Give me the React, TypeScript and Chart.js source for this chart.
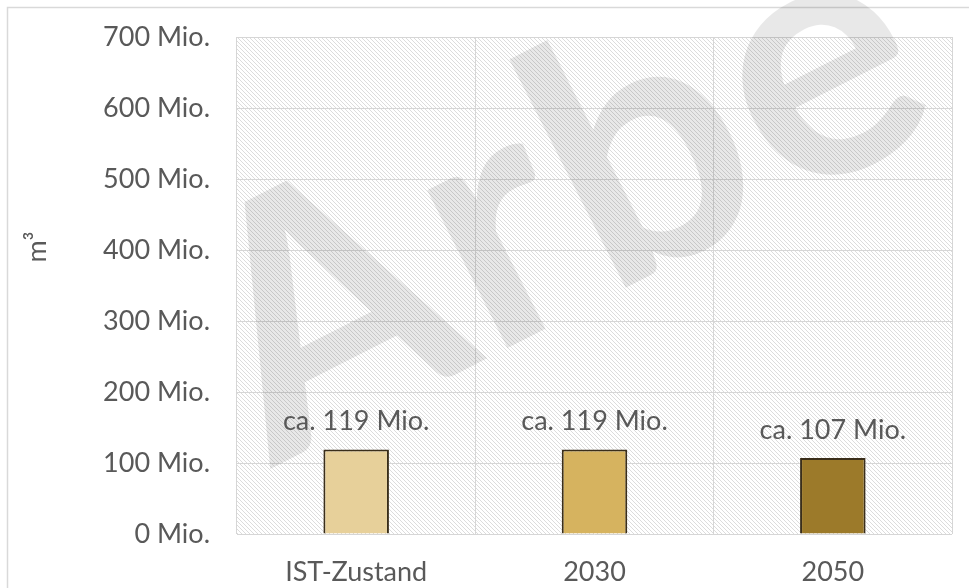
import React, { useEffect, useRef } from "react";
import { Chart, registerables } from "chart.js";

Chart.register(...registerables);

const categories = ["IST-Zustand", "2030", "2050"];
const volumesMio = [119, 119, 107];
const valueLabels = ["ca. 119 Mio.", "ca. 119 Mio.", "ca. 107 Mio."];
const barColors = ["#E7D09A", "#D6B35F", "#9C7A2A"];
const yMin = 0;
const yMax = 700;
const yStep = 100;
const yUnitSuffix = " Mio.";
const yAxisTitle = "m³";
const watermarkText = "Arbe";

const FONT = "Lato, 'Open Sans', sans-serif";
const TEXT_COLOR = "#595959";
const GRID_COLOR = "#D6D6D6";

function makeHatch(): CanvasPattern | string {
  const s = 4;
  const c = document.createElement("canvas");
  c.width = s;
  c.height = s;
  const g = c.getContext("2d");
  if (!g) return "#F2F2F2";
  g.fillStyle = "#FFFFFF";
  g.fillRect(0, 0, s, s);
  g.strokeStyle = "#DCDCDC";
  g.lineWidth = 1;
  g.beginPath();
  g.moveTo(-1, -1);
  g.lineTo(s + 1, s + 1);
  g.moveTo(-1 - s, -1);
  g.lineTo(1, s + 1);
  g.moveTo(s - 1, -1);
  g.lineTo(2 * s + 1, s + 1);
  g.stroke();
  const p = g.createPattern(c, "repeat");
  return p || "#F2F2F2";
}

const decorPlugin = {
  id: "decor",
  beforeDraw(chart: any) {
    const { ctx, chartArea, width, height } = chart;
    ctx.save();
    ctx.fillStyle = "#FFFFFF";
    ctx.fillRect(0, 0, width, height);
    // outer frame
    ctx.strokeStyle = "#D9D9D9";
    ctx.lineWidth = 1.5;
    ctx.beginPath();
    ctx.moveTo(7.5, height);
    ctx.lineTo(7.5, 7.5);
    ctx.lineTo(width, 7.5);
    ctx.stroke();
    // hatched plot background
    ctx.fillStyle = makeHatch();
    ctx.fillRect(
      chartArea.left,
      chartArea.top,
      chartArea.right - chartArea.left,
      chartArea.bottom - chartArea.top
    );
    // y axis title
    ctx.translate(37, 247);
    ctx.rotate(-Math.PI / 2);
    ctx.fillStyle = TEXT_COLOR;
    ctx.font = `27px ${FONT}`;
    ctx.textAlign = "center";
    ctx.textBaseline = "middle";
    ctx.fillText(yAxisTitle, 0, 0);
    ctx.restore();
  },
  beforeDatasetsDraw(chart: any) {
    const { ctx } = chart;
    ctx.save();
    ctx.translate(272, 468);
    ctx.rotate((-27 * Math.PI) / 180);
    ctx.fillStyle = "rgba(0,0,0,0.09)";
    ctx.font = `bold 345px ${FONT}`;
    try {
      (ctx as any).letterSpacing = "4px";
    } catch (e) {}
    ctx.textAlign = "left";
    ctx.textBaseline = "alphabetic";
    ctx.fillText(watermarkText, 0, 0);
    ctx.restore();
  },
  afterDatasetsDraw(chart: any) {
    const { ctx } = chart;
    const meta = chart.getDatasetMeta(0);
    ctx.save();
    ctx.fillStyle = TEXT_COLOR;
    ctx.font = `27px ${FONT}`;
    ctx.textAlign = "center";
    ctx.textBaseline = "middle";
    meta.data.forEach((bar: any, i: number) => {
      ctx.fillText(valueLabels[i], bar.x, bar.y - 28);
    });
    ctx.restore();
  },
};

export default function App() {
  const ref = useRef<HTMLCanvasElement | null>(null);

  useEffect(() => {
    if (!ref.current) return;
    const chart = new Chart(ref.current, {
      type: "bar",
      data: {
        labels: categories,
        datasets: [
          {
            data: volumesMio,
            backgroundColor: barColors,
            borderColor: "#3A2E1A",
            borderWidth: 2,
            borderSkipped: "bottom",
            barPercentage: 0.55,
            categoryPercentage: 0.5,
          },
        ],
      },
      options: {
        responsive: false,
        animation: false,
        devicePixelRatio: 1,
        layout: { padding: { top: 37, right: 17, left: 0, bottom: 0 } },
        plugins: {
          legend: { display: false },
          tooltip: { enabled: false },
        },
        scales: {
          x: {
            border: { display: false },
            grid: { color: GRID_COLOR, lineWidth: 1, drawTicks: false, offset: true },
            ticks: {
              color: TEXT_COLOR,
              font: { family: FONT, size: 27 },
              padding: 22,
            },
            afterFit(scale: any) {
              scale.height = 54;
            },
          },
          y: {
            min: yMin,
            max: yMax,
            border: { display: false },
            grid: { color: GRID_COLOR, lineWidth: 1, drawTicks: false },
            ticks: {
              stepSize: yStep,
              color: TEXT_COLOR,
              font: { family: FONT, size: 27 },
              padding: 27,
              callback: (v: any) => `${v}${yUnitSuffix}`,
            },
            afterFit(scale: any) {
              scale.width = 237;
              scale.paddingTop = 0;
              scale.paddingBottom = 0;
            },
          },
        },
      },
      plugins: [decorPlugin],
    });
    return () => chart.destroy();
  }, []);

  return (
    <div style={{ position: "absolute", left: 0, top: 0, width: 969, height: 588 }}>
      <canvas ref={ref} width={969} height={588} style={{ display: "block" }} />
    </div>
  );
}
